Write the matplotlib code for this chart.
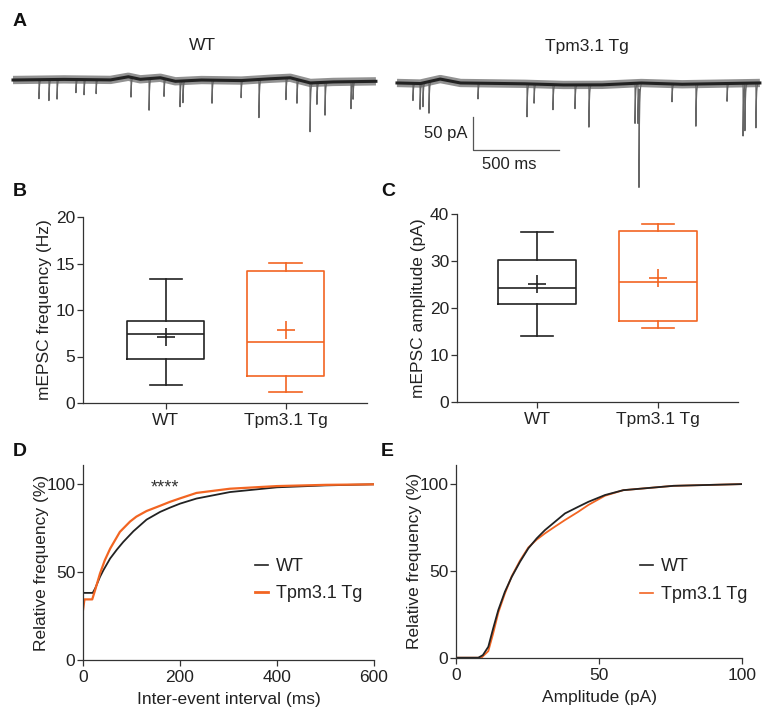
import numpy as np
import matplotlib
matplotlib.use('Agg')
import matplotlib.pyplot as plt
from matplotlib.lines import Line2D

plt.rcParams['font.family'] = ['Liberation Sans', 'DejaVu Sans']
plt.rcParams['axes.linewidth'] = 0.9
plt.rcParams['axes.edgecolor'] = '#333333'

BLACK = '#222222'
ORANGE = '#F26522'
FS = 12.5

# ---------------- data ----------------
groups = ['WT', 'Tpm3.1 Tg']

# Panel A: example traces (ms relative to trace start, pA)
wt_start = 75.6
wt_drift_t = [0, 273, 564, 669, 738, 855, 942, 1087, 1320, 1436, 1610, 1727, 1843, 2110]
wt_drift_pA = [0, 1, 0, 5, 1, 3.5, -2, 0, -1, 1, 3.5, -4.5, -3, -2]
wt_event_t = [151, 209, 256, 366, 413, 483, 686, 791, 878, 971, 988, 1157, 1326,
              1430, 1587, 1651, 1727, 1767, 1814, 1965, 1977]
wt_event_amp = [29, 32, 30, 20, 23, 21, 30, 48, 27, 39, 33, 35, 26,
                58, 33, 36, 74, 33, 50, 41, 26]

tg_start = 2308
tg_drift_t = [0, 134, 250, 366, 715, 948, 1180, 1413, 1645, 1878, 2110]
tg_drift_pA = [-4.5, -5.5, 1.5, -4.5, -5.5, -7.5, -7.5, -4.5, -6.5, -5.5, -4.5]
tg_event_t = [93, 134, 151, 186, 471, 756, 797, 907, 1035, 1116, 1384, 1401, 1407,
              1599, 1738, 1919, 2012, 2023, 2087]
tg_event_amp = [26, 39, 36, 48, 24, 50, 29, 38, 36, 64, 61, 61, 150,
                27, 64, 27, 80, 70, 68]

# Panel B: mEPSC frequency (Hz)
freq_med = [7.4, 6.6]
freq_q1 = [4.7, 2.9]
freq_q3 = [8.86, 14.2]
freq_lo = [1.9, 1.15]
freq_hi = [13.3, 15.1]
freq_mean = [7.1, 7.9]

# Panel C: mEPSC amplitude (pA)
amp_med = [24.3, 25.5]
amp_q1 = [20.9, 17.3]
amp_q3 = [30.2, 36.4]
amp_lo = [14.1, 15.8]
amp_hi = [36.1, 37.8]
amp_mean = [25.0, 26.4]

# Panel D: cumulative inter-event interval
iei_wt_x = [0, 20, 25, 35, 42, 56, 70, 83, 104, 131, 159, 179, 200, 234, 303, 400, 500, 600]
iei_wt_y = [38.2, 38.2, 40.7, 47.3, 51.1, 57.8, 62.9, 67.2, 73.3, 79.9, 84.3, 86.7, 89.0,
            91.9, 95.6, 98.3, 99.4, 100]
iei_tg_x = [0, 3, 19, 25, 35, 45, 56, 76, 97, 110, 131, 159, 179, 200, 234, 303, 400, 500, 600]
iei_tg_y = [28.4, 34.5, 34.5, 39.8, 49.2, 56.8, 63.4, 72.9, 78.8, 81.6, 84.8, 87.8, 90.0,
            92.0, 95.1, 97.5, 99.0, 99.7, 100]

# Panel E: cumulative amplitude
cum_wt_x = [0, 7.8, 9.4, 11.3, 13, 14.8, 17.1, 19.5, 22.4, 25.3, 28.2, 31.1, 34.6, 38.1,
            42.7, 46.3, 52.1, 58.5, 76, 100]
cum_wt_y = [0, 0, 1.5, 6.3, 16.9, 27.5, 38, 46.6, 55.3, 63, 68.7, 73.5, 78.3, 83.1,
            86.9, 89.8, 93.7, 96.5, 99, 100]
cum_tg_x = [0, 8.9, 9.4, 11.3, 13, 14.8, 17.1, 19.5, 22.4, 25.3, 28.2, 31.1, 34.6, 38.1,
            42.7, 46.3, 52.1, 58.5, 76, 100]
cum_tg_y = [0, 0, 0.8, 3.8, 14, 26, 37, 47, 56, 63.5, 68, 71.6, 75.5, 79.3,
            84, 88, 93.3, 96.5, 99, 100]

# ---------------- figure ----------------
W, H = 765, 715
fig = plt.figure(figsize=(W / 100, H / 100), dpi=100)


def fax(l, t, r, b):
    return fig.add_axes([l / W, 1 - b / H, (r - l) / W, (b - t) / H])


# ---- Panel A ----
PX_MS = 0.172
PX_PA = 0.66
axA = fax(0, 50, W, 190)
axA.set_xlim(0, W / PX_MS)
axA.set_ylim(-(190 - 80) / PX_PA, (80 - 50) / PX_PA)
axA.axis('off')


def draw_trace(ax, start, dt, dp, et, ea):
    t = np.arange(0, dt[-1] + 0.25, 0.25)
    base = np.interp(t, dt, dp)
    tr = base.copy()
    for t0, a in zip(et, ea):
        m = t >= t0
        tr[m] -= a * np.exp(-(t[m] - t0) / 3.0)
    ax.plot(t + start, base, color='#777777', lw=6.0, alpha=0.8, solid_capstyle='butt')
    ax.plot(t + start, tr, color='#666666', lw=0.8)
    ax.plot(t + start, base, color='#222222', lw=2.2)


draw_trace(axA, wt_start, wt_drift_t, wt_drift_pA, wt_event_t, wt_event_amp)
draw_trace(axA, tg_start, tg_drift_t, tg_drift_pA, tg_event_t, tg_event_amp)

# scale bar
sb_x0 = 473 / PX_MS
sb_y0 = (80 - 150) / PX_PA
axA.plot([sb_x0, sb_x0, sb_x0 + 500], [sb_y0 + 50, sb_y0, sb_y0], color='#555555', lw=0.9)
axA.text(sb_x0 - 6 / PX_MS, sb_y0 + 25, '50 pA', ha='right', va='center', fontsize=12, color=BLACK)
axA.text(sb_x0 + 210, sb_y0 - 7 / PX_PA, '500 ms', ha='center', va='top', fontsize=12, color=BLACK)

fig.text(202 / W, 1 - 46 / H, groups[0], ha='center', va='center', fontsize=FS, color=BLACK)
fig.text(587 / W, 1 - 46 / H, groups[1], ha='center', va='center', fontsize=FS, color=BLACK)

# panel letters
for lab, x, y in [('A', 13, 21), ('B', 13, 192), ('C', 381, 192), ('D', 13, 452), ('E', 381, 452)]:
    fig.text(x / W, 1 - y / H, lab, ha='left', va='center', fontsize=14, fontweight='bold', color='#111111')


def style(ax):
    ax.spines['top'].set_visible(False)
    ax.spines['right'].set_visible(False)
    ax.tick_params(direction='out', length=4, width=0.9, colors='#333333', labelsize=FS,
                   labelcolor=BLACK)
    ax.tick_params(axis='y', pad=1.5)


def box_panel(ax, med, q1, q3, lo, hi, mean, xlim, ylim, yticks, ylabel):
    stats = []
    for i in range(2):
        stats.append(dict(med=med[i], q1=q1[i], q3=q3[i], whislo=lo[i], whishi=hi[i],
                          mean=mean[i], fliers=[]))
    res = ax.bxp(stats, positions=[0, 1], widths=0.64, showmeans=True, showfliers=False,
                 capwidths=0.27, manage_ticks=False)
    cols = [BLACK, ORANGE]
    for i, c in enumerate(cols):
        res['boxes'][i].set(color=c, lw=1.2)
        res['medians'][i].set(color=c, lw=1.2)
        for k in (2 * i, 2 * i + 1):
            res['whiskers'][k].set(color=c, lw=1.2)
            res['caps'][k].set(color=c, lw=1.2)
        res['means'][i].set(marker='+', markersize=13, markeredgewidth=1.2,
                            markeredgecolor=c, color=c)
    ax.set_xlim(*xlim)
    ax.set_ylim(*ylim)
    ax.set_yticks(yticks)
    ax.set_xticks([0, 1])
    ax.set_xticklabels(groups)
    ax.set_ylabel(ylabel, fontsize=FS, color=BLACK, labelpad=3)
    style(ax)


axB = fax(83, 217, 367, 403)
box_panel(axB, freq_med, freq_q1, freq_q3, freq_lo, freq_hi, freq_mean,
          (-0.69, 1.68), (0, 20), [0, 5, 10, 15, 20], 'mEPSC frequency (Hz)')

axC = fax(457, 214, 738, 402)
box_panel(axC, amp_med, amp_q1, amp_q3, amp_lo, amp_hi, amp_mean,
          (-0.66, 1.66), (0, 40), [0, 10, 20, 30, 40], 'mEPSC amplitude (pA)')

# ---- Panel D ----
axD = fax(83, 465, 374, 660)
axD.plot(iei_wt_x, iei_wt_y, color=BLACK, lw=1.3)
axD.plot(iei_tg_x, iei_tg_y, color=ORANGE, lw=1.6)
axD.set_xlim(0, 600)
axD.set_ylim(0, 111)
axD.set_xticks([0, 200, 400, 600])
axD.set_yticks([0, 50, 100])
axD.set_xlabel('Inter-event interval (ms)', fontsize=FS, color=BLACK, labelpad=5)
axD.set_ylabel('Relative frequency (%)', fontsize=FS, color=BLACK, labelpad=-2)
axD.text(169, 95.5, '****', ha='center', va='baseline', fontsize=13, color='#333333')
style(axD)
axD.legend(handles=[Line2D([], [], color=BLACK, lw=1.2), Line2D([], [], color=ORANGE, lw=2.0)],
           labels=groups, loc='upper left', bbox_to_anchor=(255 / W, 1 - 558 / H),
           bbox_transform=fig.transFigure, frameon=False, fontsize=13, handlelength=0.7,
           handletextpad=0.45, borderpad=0, borderaxespad=0, labelspacing=0.55,
           labelcolor=BLACK)

# ---- Panel E ----
axE = fax(456, 465, 742, 657.7)
axE.plot(cum_tg_x, cum_tg_y, color=ORANGE, lw=1.3)
axE.plot(cum_wt_x, cum_wt_y, color=BLACK, lw=1.3)
axE.set_xlim(0, 100)
axE.set_ylim(0, 111)
axE.set_xticks([0, 50, 100])
axE.set_yticks([0, 50, 100])
axE.set_xlabel('Amplitude (pA)', fontsize=FS, color=BLACK, labelpad=5)
axE.set_ylabel('Relative frequency (%)', fontsize=FS, color=BLACK, labelpad=-2)
style(axE)
axE.legend(handles=[Line2D([], [], color=BLACK, lw=1.2), Line2D([], [], color=ORANGE, lw=1.2)],
           labels=groups, loc='upper left', bbox_to_anchor=(640 / W, 1 - 558 / H),
           bbox_transform=fig.transFigure, frameon=False, fontsize=13, handlelength=0.7,
           handletextpad=0.45, borderpad=0, borderaxespad=0, labelspacing=0.6,
           labelcolor=BLACK)

fig.savefig('out.png', dpi=100)
